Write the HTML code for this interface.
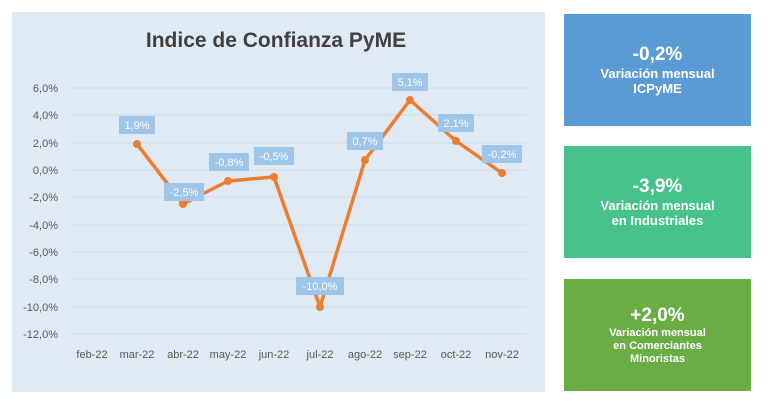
<!DOCTYPE html>
<html><head><meta charset="utf-8"><style>
body{margin:0;width:768px;height:402px;background:#fff;position:relative;overflow:hidden;font-family:"Liberation Sans",sans-serif}
.box{position:absolute;left:564px;width:187px;height:112px;color:#fff;text-align:center;font-weight:bold;display:flex;flex-direction:column;justify-content:center}
.box .v{font-size:19px;line-height:22px}
.box .t{font-size:13px;line-height:15px}
</style></head><body>
<svg width="768" height="402" style="position:absolute;left:0;top:0" font-family="Liberation Sans, sans-serif">
<rect x="12" y="12" width="533" height="380" fill="#dfeaf5"/>
<text x="276" y="47" text-anchor="middle" font-size="21" font-weight="bold" fill="#404040">Indice de Confianza PyME</text>
<g stroke="#cfd9e4" stroke-width="1">
<line x1="72" x2="527" y1="88" y2="88"/><line x1="72" x2="527" y1="115" y2="115"/><line x1="72" x2="527" y1="143" y2="143"/><line x1="72" x2="527" y1="170" y2="170"/><line x1="72" x2="527" y1="197" y2="197"/><line x1="72" x2="527" y1="225" y2="225"/><line x1="72" x2="527" y1="252" y2="252"/><line x1="72" x2="527" y1="279" y2="279"/><line x1="72" x2="527" y1="307" y2="307"/><line x1="72" x2="527" y1="334" y2="334"/>
</g>
<g font-size="11" fill="#595959" text-anchor="end">
<text x="58" y="92">6,0%</text><text x="58" y="119">4,0%</text><text x="58" y="147">2,0%</text><text x="58" y="174">0,0%</text><text x="58" y="201">-2,0%</text><text x="58" y="229">-4,0%</text><text x="58" y="256">-6,0%</text><text x="58" y="283">-8,0%</text><text x="58" y="311">-10,0%</text><text x="58" y="338">-12,0%</text>
</g>
<g font-size="11" fill="#595959" text-anchor="middle">
<text x="92" y="358">feb-22</text><text x="137" y="358">mar-22</text><text x="183" y="358">abr-22</text><text x="228" y="358">may-22</text><text x="274" y="358">jun-22</text><text x="320" y="358">jul-22</text><text x="365" y="358">ago-22</text><text x="410" y="358">sep-22</text><text x="456" y="358">oct-22</text><text x="502" y="358">nov-22</text>
</g>
<polyline fill="none" stroke="#ed7d31" stroke-width="3.5" stroke-linejoin="round" points="137,144 183,204 228,181 274,177 320,307 365,160 410,100 456,141 502,173"/>
<g fill="#ed7d31">
<circle cx="137" cy="144" r="4"/><circle cx="183" cy="204" r="4"/><circle cx="228" cy="181" r="4"/><circle cx="274" cy="177" r="4"/><circle cx="320" cy="307" r="4"/><circle cx="365" cy="160" r="4"/><circle cx="410" cy="100" r="4"/><circle cx="456" cy="141" r="4"/><circle cx="502" cy="173" r="4"/>
</g>
<g fill="#9fc5e8">
<rect x="119" y="116" width="36" height="18"/><rect x="164" y="183" width="40" height="18"/><rect x="209" y="153" width="40" height="18"/><rect x="254" y="147" width="40" height="18"/><rect x="296" y="277" width="48" height="18"/><rect x="347" y="132" width="36" height="18"/><rect x="392" y="73" width="36" height="18"/><rect x="438" y="114" width="36" height="18"/><rect x="482" y="145" width="40" height="18"/>
</g>
<g font-size="11" fill="#fff" text-anchor="middle">
<text x="137" y="129">1,9%</text><text x="184" y="196">-2,5%</text><text x="229" y="166">-0,8%</text><text x="274" y="160">-0,5%</text><text x="320" y="290">-10,0%</text><text x="365" y="145">0,7%</text><text x="410" y="86">5,1%</text><text x="456" y="127">2,1%</text><text x="502" y="158">-0,2%</text>
</g>
</svg>
<div class="box" style="top:14px;background:#5b9bd5"><div class="v">-0,2%</div><div class="t">Variación mensual<br>ICPyME</div></div>
<div class="box" style="top:146px;background:#47c28a"><div class="v">-3,9%</div><div class="t">Variación mensual<br>en Industriales</div></div>
<div class="box" style="top:279px;background:#6aad45"><div class="v">+2,0%</div><div class="t" style="font-size:11px;line-height:13px">Variación mensual<br>en Comerciantes<br>Minoristas</div></div>
</body></html>
